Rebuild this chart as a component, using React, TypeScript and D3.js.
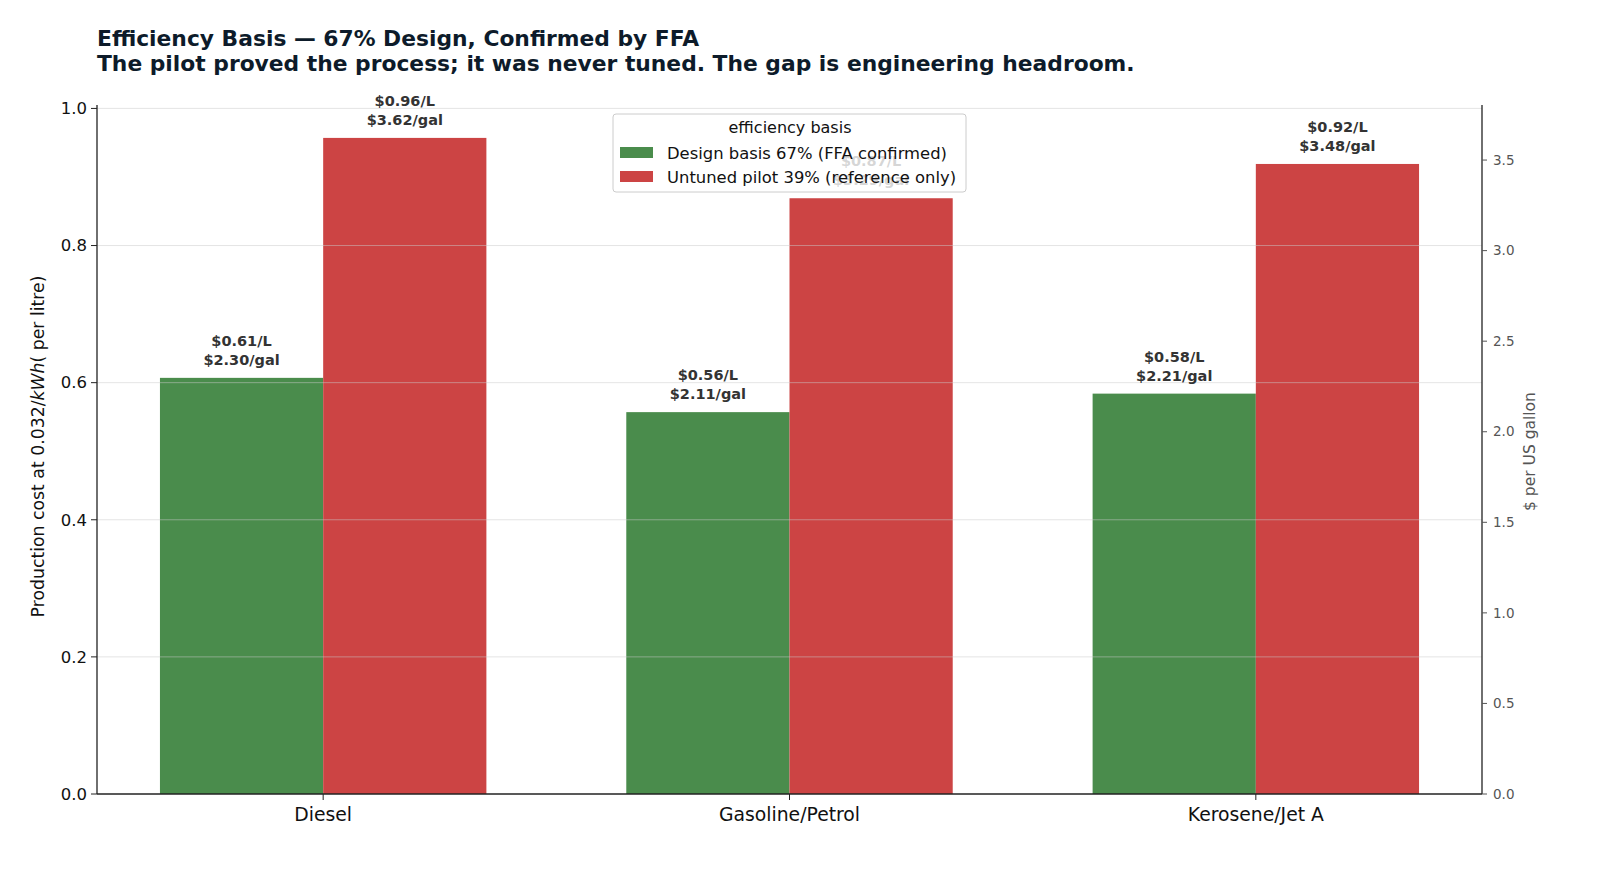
import React, { useEffect, useRef } from 'react';
import * as d3 from 'd3';

const fuels = ['Diesel', 'Gasoline/Petrol', 'Kerosene/Jet A'];
const seriesNames = ['Design basis 67% (FFA confirmed)', 'Untuned pilot 39% (reference only)'];
const designCost = [0.607, 0.557, 0.584];
const pilotCost = [0.957, 0.869, 0.919];
const leftTicks = [0.0, 0.2, 0.4, 0.6, 0.8, 1.0];
const rightTicks = [0.0, 0.5, 1.0, 1.5, 2.0, 2.5, 3.0, 3.5];
const LITRES_PER_GAL = 3.785;

const colors = ['#4a8c4c', '#cc4444'];
const FONT = '"DejaVu Sans", sans-serif';

export default function App() {
  const svgRef = useRef<SVGSVGElement>(null);

  useEffect(() => {
    if (!svgRef.current) return;
    d3.select(svgRef.current).selectAll('*').remove();

    const W = 1600;
    const H = 870;
    const margin = { top: 105, right: 118, bottom: 76, left: 97 };
    const width = W - margin.left - margin.right;
    const height = H - margin.top - margin.bottom;

    const svg = d3.select(svgRef.current)
      .attr('width', W)
      .attr('height', H)
      .style('font-family', FONT);

    svg.append('rect').attr('width', W).attr('height', H).attr('fill', '#ffffff');

    // Title
    const title = svg.append('text')
      .attr('x', 97)
      .attr('y', 46)
      .style('font-size', '21.8px')
      .style('font-weight', 'bold')
      .attr('fill', '#0d1b2a');
    title.append('tspan').attr('x', 97).text('Efficiency Basis — 67% Design, Confirmed by FFA');
    title.append('tspan').attr('x', 97).attr('dy', 25).text('The pilot proved the process; it was never tuned. The gap is engineering headroom.');

    const g = svg.append('g').attr('transform', `translate(${margin.left},${margin.top})`);

    const yMax = 1.005;
    const y = d3.scaleLinear().domain([0, yMax]).range([height, 0]);
    const yGal = d3.scaleLinear().domain([0, yMax * LITRES_PER_GAL]).range([height, 0]);
    const x = d3.scaleLinear().domain([-0.485, 2.485]).range([0, width]);
    const barW = x(0.35) - x(0);

    const series = [designCost, pilotCost];

    // Bars
    series.forEach((vals, si) => {
      g.selectAll(`.bar-${si}`)
        .data(vals)
        .enter()
        .append('rect')
        .attr('x', (_, i) => x(i) + (si === 0 ? -barW : 0))
        .attr('y', d => y(d))
        .attr('width', barW)
        .attr('height', d => height - y(d))
        .attr('fill', colors[si]);
    });

    // Gridlines (above bars, faint)
    g.selectAll('.grid')
      .data(leftTicks.slice(1))
      .enter()
      .append('line')
      .attr('x1', 0)
      .attr('x2', width)
      .attr('y1', d => y(d))
      .attr('y2', d => y(d))
      .attr('stroke', '#cccccc')
      .attr('stroke-opacity', 0.5)
      .attr('stroke-width', 1);

    // Value labels
    series.forEach((vals, si) => {
      const lbl = g.selectAll(`.lbl-${si}`)
        .data(vals)
        .enter()
        .append('text')
        .attr('text-anchor', 'middle')
        .style('font-size', '14.5px')
        .style('font-weight', 'bold')
        .attr('fill', '#333333');
      lbl.append('tspan')
        .attr('x', (_, i) => x(i) + (si === 0 ? -barW / 2 : barW / 2))
        .attr('y', d => y(d) - 32)
        .text(d => `$${d.toFixed(2)}/L`);
      lbl.append('tspan')
        .attr('x', (_, i) => x(i) + (si === 0 ? -barW / 2 : barW / 2))
        .attr('y', d => y(d) - 13)
        .text(d => `$${(d * LITRES_PER_GAL).toFixed(2)}/gal`);
    });

    // Spines
    g.append('line').attr('x1', 0).attr('x2', 0).attr('y1', 0).attr('y2', height)
      .attr('stroke', '#222').attr('stroke-width', 1.3);
    g.append('line').attr('x1', width).attr('x2', width).attr('y1', 0).attr('y2', height)
      .attr('stroke', '#222').attr('stroke-width', 1.3);
    g.append('line').attr('x1', 0).attr('x2', width).attr('y1', height).attr('y2', height)
      .attr('stroke', '#222').attr('stroke-width', 1.3);

    // Left axis
    const yAxis = g.append('g');
    yAxis.selectAll('.lt')
      .data(leftTicks)
      .enter()
      .append('line')
      .attr('x1', -6).attr('x2', 0)
      .attr('y1', d => y(d)).attr('y2', d => y(d))
      .attr('stroke', '#222');
    yAxis.selectAll('.ltl')
      .data(leftTicks)
      .enter()
      .append('text')
      .attr('x', -10)
      .attr('y', d => y(d))
      .attr('dy', '0.35em')
      .attr('text-anchor', 'end')
      .style('font-size', '16.5px')
      .attr('fill', '#111')
      .text(d => d.toFixed(1));

    // Right axis
    const rAxis = g.append('g').attr('transform', `translate(${width},0)`);
    rAxis.selectAll('.rt')
      .data(rightTicks)
      .enter()
      .append('line')
      .attr('x1', 0).attr('x2', 5)
      .attr('y1', d => yGal(d)).attr('y2', d => yGal(d))
      .attr('stroke', '#555');
    rAxis.selectAll('.rtl')
      .data(rightTicks)
      .enter()
      .append('text')
      .attr('x', 11)
      .attr('y', d => yGal(d))
      .attr('dy', '0.35em')
      .style('font-size', '13.5px')
      .attr('fill', '#555')
      .text(d => d.toFixed(1));

    // X axis
    const xAxis = g.append('g').attr('transform', `translate(0,${height})`);
    xAxis.selectAll('.xt')
      .data(fuels)
      .enter()
      .append('line')
      .attr('x1', (_, i) => x(i)).attr('x2', (_, i) => x(i))
      .attr('y1', 0).attr('y2', 6)
      .attr('stroke', '#222');
    xAxis.selectAll('.xtl')
      .data(fuels)
      .enter()
      .append('text')
      .attr('x', (_, i) => x(i))
      .attr('y', 27)
      .attr('text-anchor', 'middle')
      .style('font-size', '18.8px')
      .attr('fill', '#111')
      .text(d => d);

    // Axis labels
    const yl = svg.append('text')
      .attr('transform', `translate(44,${margin.top + height / 2 - 3}) rotate(-90)`)
      .attr('text-anchor', 'middle')
      .style('font-size', '17.3px')
      .attr('fill', '#111');
    yl.append('tspan').text('Production cost at 0.032/');
    yl.append('tspan').style('font-style', 'italic').text('kWh');
    yl.append('tspan').text('( per litre)');

    svg.append('text')
      .attr('transform', `translate(1535,${margin.top + height / 2 + 2}) rotate(-90)`)
      .attr('text-anchor', 'middle')
      .style('font-size', '15.5px')
      .attr('fill', '#555')
      .text('$ per US gallon');

    // Legend
    const legend = svg.append('g').attr('transform', 'translate(613,114)');
    legend.append('rect')
      .attr('width', 353)
      .attr('height', 78)
      .attr('rx', 3)
      .attr('fill', '#ffffff')
      .attr('fill-opacity', 0.8)
      .attr('stroke', '#cccccc')
      .attr('stroke-width', 1);
    legend.append('text')
      .attr('x', 177)
      .attr('y', 19)
      .attr('text-anchor', 'middle')
      .style('font-size', '16px')
      .attr('fill', '#111')
      .text('efficiency basis');
    const items = legend.selectAll('.li')
      .data(seriesNames)
      .enter()
      .append('g')
      .attr('transform', (_, i) => `translate(0,${i * 24})`);
    items.append('rect')
      .attr('x', 7)
      .attr('y', 33)
      .attr('width', 33)
      .attr('height', 11)
      .attr('fill', (_, i) => colors[i]);
    items.append('text')
      .attr('x', 54)
      .attr('y', 39)
      .attr('dy', '0.35em')
      .style('font-size', '16.4px')
      .attr('fill', '#111')
      .text(d => d);
  }, []);

  return (
    <div style={{ position: 'absolute', left: 0, top: 0 }}>
      <svg ref={svgRef} style={{ display: 'block' }} />
    </div>
  );
}
